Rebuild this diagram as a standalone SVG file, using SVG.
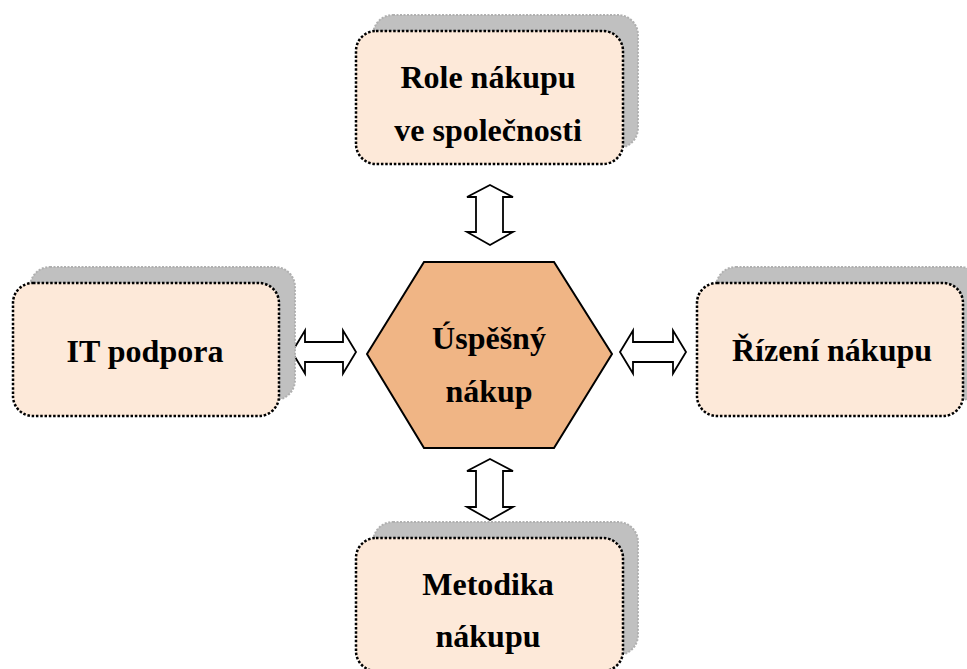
<svg xmlns="http://www.w3.org/2000/svg" width="967" height="669" viewBox="0 0 967 669">
<style>
.shadow{fill:#c0c0c0;stroke:#b0b0b0;stroke-width:2;stroke-dasharray:2 1.5}
.box{fill:#fde9d9;stroke:#000;stroke-width:2.5;stroke-dasharray:2.5 1.8}
.hex{fill:#f0b585;stroke:#000;stroke-width:2}
.arrow{fill:#fff;stroke:#000;stroke-width:1.8;stroke-linejoin:miter}
.t{font-family:'Liberation Serif','Times New Roman','DejaVu Serif',serif;font-weight:700;font-size:32px;fill:#000;text-anchor:middle}
</style>
<rect width="967" height="669" fill="#fff"/>
<g id="connectors">
<polygon class="arrow" points="292,352 305,330.5 305,342 343,342 343,330.5 356,352 343,373.5 343,362 305,362 305,373.5"/>
<polygon class="arrow" points="620,352 633,330.5 633,342 673,342 673,330.5 686,352 673,373.5 673,362 633,362 633,373.5"/>
<polygon class="arrow" points="490,185 513,197 503,197 503,232 513,232 490,245 467,232 476,232 476,197 467,197"/>
<polygon class="arrow" points="490,459 513,471 503,471 503,507 513,507 490,520 467,507 476,507 476,471 467,471"/>
</g>
<g id="node-role">
<rect class="shadow" x="373" y="15" width="265" height="133" rx="20"/>
<rect class="box" x="356" y="31" width="267" height="133" rx="20"/>
<text class="t" x="488" y="88" font-family="Liberation Serif, serif">Role nákupu</text>
<text class="t" x="488" y="141" font-family="Liberation Serif, serif">ve společnosti</text>
</g>
<g id="node-it">
<rect class="shadow" x="30" y="267" width="265" height="133" rx="20"/>
<rect class="box" x="13" y="283" width="266" height="133" rx="20"/>
<text class="t" x="145" y="362" font-family="Liberation Serif, serif">IT podpora</text>
</g>
<g id="node-rizeni">
<rect class="shadow" x="716" y="267" width="265" height="133" rx="20"/>
<rect class="box" x="697" y="283" width="266" height="133" rx="20"/>
<text class="t" x="832" y="361" font-family="Liberation Serif, serif">Řízení nákupu</text>
</g>
<g id="node-metodika">
<rect class="shadow" x="373" y="522" width="265" height="133" rx="20"/>
<rect class="box" x="356" y="538" width="267" height="133" rx="20"/>
<text class="t" x="488" y="595" font-family="Liberation Serif, serif">Metodika</text>
<text class="t" x="488" y="647" font-family="Liberation Serif, serif">nákupu</text>
</g>
<g id="node-center">
<polygon class="hex" points="367,354 424,262 554,262 612,354 554,448 424,448"/>
<text class="t" x="489" y="349" font-family="Liberation Serif, serif">Úspěšný</text>
<text class="t" x="489" y="402" font-family="Liberation Serif, serif">nákup</text>
</g>
</svg>
